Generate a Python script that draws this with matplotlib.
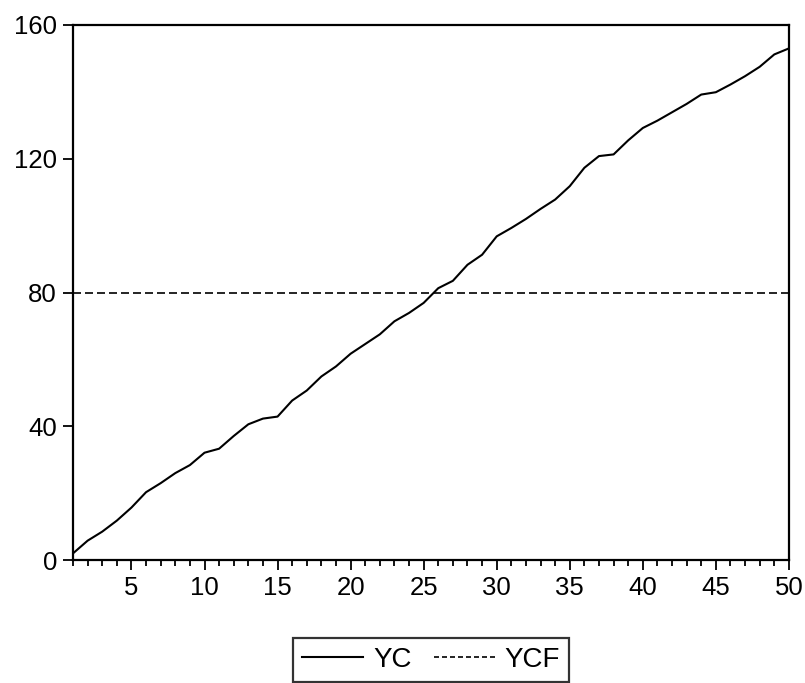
import matplotlib
matplotlib.use("Agg")
import matplotlib.pyplot as plt
from matplotlib.ticker import MultipleLocator

plt.rcParams['font.family'] = ['Liberation Sans', 'DejaVu Sans']

# data
obs = list(range(1, 51))
yc = [2.0, 5.8, 8.5, 11.8, 15.7, 20.3, 23.0, 26.0, 28.4, 32.1,
      33.3, 37.1, 40.6, 42.3, 42.9, 47.7, 50.7, 54.9, 57.9, 61.7,
      64.6, 67.5, 71.4, 73.9, 76.9, 81.3, 83.5, 88.3, 91.3, 96.8,
      99.3, 102.0, 105.0, 107.8, 111.8, 117.3, 120.8, 121.3, 125.5, 129.2,
      131.4, 133.9, 136.4, 139.2, 139.9, 142.2, 144.7, 147.5, 151.2, 153.0]
ycf = [80.0] * len(obs)

fig = plt.figure(figsize=(8.05, 6.83), dpi=100)
ax = fig.add_axes([0.0907, 0.180, 0.8893, 0.7834])

ax.plot(obs, yc, color='black', lw=1.5, label='YC')
ax.plot(obs, ycf, color='black', lw=1.2, dashes=(4.8, 2.4), label='YCF')

ax.set_xlim(1, 50)
ax.set_ylim(0, 160)
ax.set_yticks([0, 40, 80, 120, 160])
ax.set_xticks([5, 10, 15, 20, 25, 30, 35, 40, 45, 50])
ax.xaxis.set_minor_locator(MultipleLocator(1))
ax.tick_params(axis='both', which='major', direction='out', length=7.5,
               width=1.3, labelsize=18.5, pad=4)
ax.tick_params(axis='x', which='minor', direction='out', length=4, width=1.3)
ax.tick_params(axis='y', which='minor', left=False)
for s in ax.spines.values():
    s.set_linewidth(1.6)

leg = ax.legend(loc='upper center', bbox_to_anchor=(0.5, -0.146), ncol=2,
                fontsize=20, frameon=True, fancybox=False, edgecolor='black',
                handlelength=2.2, handletextpad=0.35, columnspacing=0.8,
                borderpad=0.32, borderaxespad=0)
leg.get_frame().set_linewidth(1.6)
leg.get_lines()[0].set_linewidth(1.5)
leg.get_lines()[1].set_dashes((3.0, 1.8))
leg.get_lines()[1].set_linewidth(1.2)

fig.savefig('out.png', dpi=100)
